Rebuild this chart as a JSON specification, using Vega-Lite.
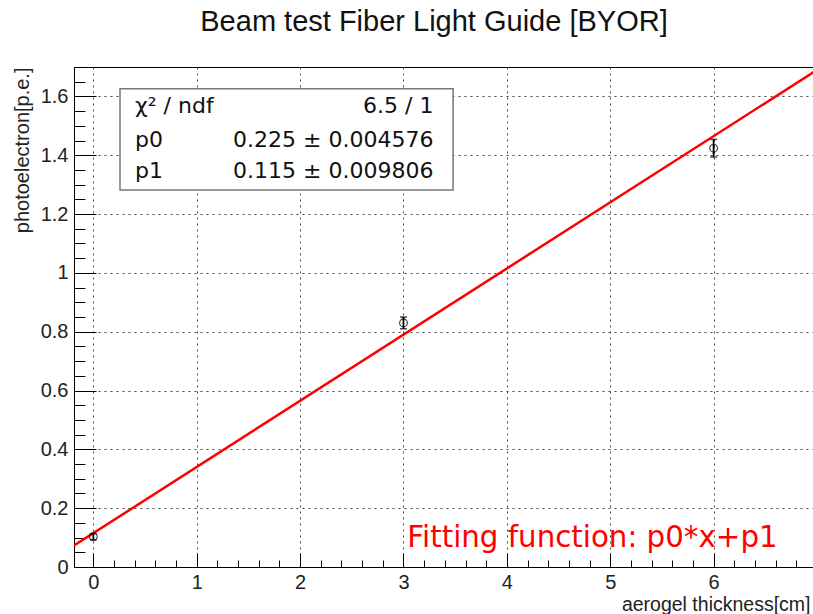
{
  "$schema": "https://vega.github.io/schema/vega-lite/v6.json",
  "width": 743,
  "height": 500,
  "autosize": {"type": "none"},
  "padding": {"left": 74, "top": 67, "right": 0, "bottom": 47},
  "background": "white",
  "title": {"text": "Beam test Fiber Light Guide [BYOR]", "font": "Liberation Sans", "fontSize": 29, "fontWeight": "normal", "color": "#111", "anchor": "middle", "baseline": "alphabetic", "dx": -11.5, "offset": -3},
  "config": {"view": {"stroke": "#000", "strokeWidth": 1}},
  "datasets": {
    "box": [{"x": 0.258, "x2": 3.48, "y": 1.282, "y2": 1.626}],
    "fit": [{"x": -0.187, "y": 0.0729}, {"x": 7.0, "y": 1.69}],
    "points": [
      {"x": 0, "y": 0.103, "lo": 0.093, "hi": 0.113},
      {"x": 3, "y": 0.83, "lo": 0.81, "hi": 0.85},
      {"x": 6, "y": 1.424, "lo": 1.394, "hi": 1.454}
    ],
    "statsLeft": [
      {"x": 0.404, "y": 1.566, "label": "χ² / ndf"},
      {"x": 0.404, "y": 1.452, "label": "p0"},
      {"x": 0.404, "y": 1.345, "label": "p1"}
    ],
    "statsRight": [
      {"x": 3.29, "y": 1.566, "label": "6.5 / 1"},
      {"x": 3.29, "y": 1.452, "label": "0.225 ± 0.004576"},
      {"x": 3.29, "y": 1.345, "label": "0.115 ± 0.009806"}
    ],
    "note": [{"x": 3.037, "y": 0.069, "label": "Fitting function: p0*x+p1"}]
  },
  "encoding": {
    "x": {
      "field": "x", "type": "quantitative",
      "scale": {"domain": [-0.187, 7.0], "nice": false, "zero": false},
      "axis": {
        "values": [0,0.2,0.4,0.6,0.8,1,1.2,1.4,1.6,1.8,2,2.2,2.4,2.6,2.8,3,3.2,3.4,3.6,3.8,4,4.2,4.4,4.6,4.8,5,5.2,5.4,5.6,5.8,6,6.2,6.4,6.6,6.8,7],
        "domain": true, "domainColor": "#000", "domainWidth": 1,
        "ticks": true, "tickColor": "#000", "tickWidth": 1,
        "tickSize": {"condition": {"test": "abs(datum.value - round(datum.value)) < 0.001", "value": -14}, "value": -7},
        "grid": true, "gridColor": "#444", "gridDash": [2, 4], "gridWidth": 1,
        "gridOpacity": {"condition": {"test": "abs(datum.value - round(datum.value)) < 0.001", "value": 1}, "value": 0},
        "labelExpr": "abs(datum.value - round(datum.value)) < 0.001 ? format(datum.value, 'd') : ''",
        "labelFont": "Liberation Sans", "labelFontSize": 20, "labelColor": "#222", "labelPadding": 19,
        "labelFlush": false, "labelOverlap": false,
        "title": "aerogel thickness[cm]", "titleFont": "Liberation Sans", "titleFontSize": 19.5, "titleFontWeight": "normal", "titleColor": "#222",
        "titleAlign": "right", "titleBaseline": "alphabetic", "titleX": 736, "titleY": 43
      }
    },
    "y": {
      "field": "y", "type": "quantitative",
      "scale": {"domain": [0, 1.70], "nice": false, "zero": false},
      "axis": {
        "values": [0,0.05,0.1,0.15,0.2,0.25,0.3,0.35,0.4,0.45,0.5,0.55,0.6,0.65,0.7,0.75,0.8,0.85,0.9,0.95,1,1.05,1.1,1.15,1.2,1.25,1.3,1.35,1.4,1.45,1.5,1.55,1.6,1.65,1.7],
        "domain": true, "domainColor": "#000", "domainWidth": 1,
        "ticks": true, "tickColor": "#000", "tickWidth": 1,
        "tickSize": {"condition": {"test": "abs(datum.value*5 - round(datum.value*5)) < 0.001", "value": -22}, "value": -11},
        "grid": true, "gridColor": "#444", "gridDash": [2, 4], "gridWidth": 1,
        "gridOpacity": {"condition": {"test": "abs(datum.value*5 - round(datum.value*5)) < 0.001 && datum.value > 0.01", "value": 1}, "value": 0},
        "labelExpr": "abs(datum.value*5 - round(datum.value*5)) < 0.001 ? format(datum.value, '.1~f') : ''",
        "labelFont": "Liberation Sans", "labelFontSize": 20, "labelColor": "#222", "labelPadding": 28,
        "labelFlush": false, "labelOverlap": false,
        "title": "photoelectron[p.e.]", "titleFont": "Liberation Sans", "titleFontSize": 20, "titleFontWeight": "normal", "titleColor": "#222",
        "titleAlign": "right", "titleBaseline": "middle", "titleAngle": -90, "titleX": -52, "titleY": 0
      }
    }
  },
  "layer": [
    {
      "data": {"name": "box"},
      "mark": {"type": "rect", "fill": "white", "stroke": "#777", "strokeWidth": 1.5},
      "encoding": {"x2": {"field": "x2"}, "y2": {"field": "y2"}}
    },
    {
      "data": {"name": "fit"},
      "mark": {"type": "line", "color": "#ff0000", "strokeWidth": 2.5, "clip": true},
      "encoding": {}
    },
    {
      "data": {"name": "points"},
      "mark": {"type": "rule", "color": "#000", "strokeWidth": 1.8},
      "encoding": {"y": {"field": "lo", "type": "quantitative"}, "y2": {"field": "hi"}}
    },
    {
      "data": {"name": "points"},
      "mark": {"type": "tick", "orient": "horizontal", "color": "#000", "size": 7, "thickness": 1.5},
      "encoding": {"y": {"field": "lo", "type": "quantitative"}}
    },
    {
      "data": {"name": "points"},
      "mark": {"type": "tick", "orient": "horizontal", "color": "#000", "size": 7, "thickness": 1.5},
      "encoding": {"y": {"field": "hi", "type": "quantitative"}}
    },
    {
      "data": {"name": "points"},
      "mark": {"type": "point", "shape": "circle", "filled": false, "color": "#000", "size": 60, "strokeWidth": 1.3}
    },
    {
      "data": {"name": "statsLeft"},
      "mark": {"type": "text", "align": "left", "baseline": "middle", "font": "DejaVu Sans", "fontSize": 22, "color": "#111"},
      "encoding": {"text": {"field": "label"}}
    },
    {
      "data": {"name": "statsRight"},
      "mark": {"type": "text", "align": "right", "baseline": "middle", "font": "DejaVu Sans", "fontSize": 22, "color": "#111"},
      "encoding": {"text": {"field": "label"}}
    },
    {
      "data": {"name": "note"},
      "mark": {"type": "text", "align": "left", "baseline": "alphabetic", "font": "DejaVu Sans", "fontSize": 29.3, "color": "#ff0000"},
      "encoding": {"text": {"field": "label"}}
    }
  ]
}
